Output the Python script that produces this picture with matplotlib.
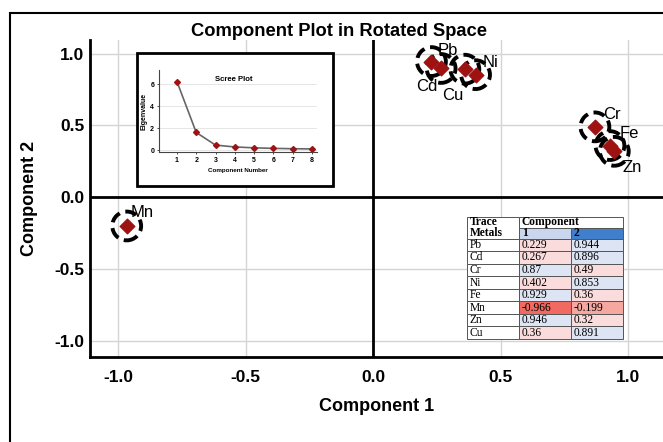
import numpy as np
import matplotlib.pyplot as plt
from matplotlib.patches import Rectangle

plt.rcParams['font.family'] = ['Liberation Sans', 'DejaVu Sans']

metals = ['Pb', 'Cd', 'Cr', 'Ni', 'Fe', 'Mn', 'Zn', 'Cu']
comp1 = [0.229, 0.267, 0.87, 0.402, 0.929, -0.966, 0.946, 0.36]
comp2 = [0.944, 0.896, 0.49, 0.853, 0.36, -0.199, 0.32, 0.891]
scree_x = [1, 2, 3, 4, 5, 6, 7, 8]
eigen = [6.25, 1.6, 0.45, 0.28, 0.2, 0.15, 0.12, 0.1]
ticks = [-1.0, -0.5, 0.0, 0.5, 1.0]
tick_labels = ['-1.0', '-0.5', '0.0', '0.5', '1.0']

# label offsets (points) from each marker
offs = {'Pb': (12, 8), 'Cd': (-10, -13), 'Cr': (12, 9), 'Ni': (11, 9),
        'Fe': (14, 9), 'Mn': (11, 10), 'Zn': (13, -12), 'Cu': (-9, -19)}

W, H = 663, 442
fig = plt.figure(figsize=(W/100, H/100), dpi=100)

# outer frame
fig.patches.append(Rectangle((10/W, -0.1), 1.2, 1 - 13/H + 0.1, transform=fig.transFigure,
                             fill=False, edgecolor='black', lw=1.5))

ax = fig.add_axes([90/W, 85/H, (W - 90)/W, (357 - 40)/H])
ax.set_xlim(-1.11, 1.137)
ax.set_ylim(-1.11, 1.094)
ax.set_xticks(ticks)
ax.set_xticklabels(tick_labels)
ax.set_yticks(ticks)
ax.set_yticklabels(tick_labels)
ax.tick_params(length=0, labelsize=12.5)
ax.tick_params(axis='x', pad=9)
ax.tick_params(axis='y', pad=4)
for lab in ax.get_xticklabels() + ax.get_yticklabels():
    lab.set_fontweight('bold')
ax.grid(color='#d4d4d4', lw=1)
ax.set_axisbelow(True)
for s in ['top', 'right']:
    ax.spines[s].set_visible(False)
for s in ['left', 'bottom']:
    ax.spines[s].set_linewidth(2)
ax.axhline(0, color='black', lw=2, zorder=2)
ax.axvline(0, color='black', lw=2, zorder=2)

ax.scatter(comp1, comp2, s=430, facecolors='none', edgecolors='black',
           linewidths=2.8, linestyles=(0, (3, 1.5)), zorder=3)
ax.scatter(comp1, comp2, s=55, marker='D', color='#9e1212', zorder=4)
for m, x, y in zip(metals, comp1, comp2):
    ax.annotate(m, (x, y), xytext=offs[m], textcoords='offset points',
                ha='center', va='center', fontsize=12, zorder=5)

ax.set_xlabel('Component 1', fontsize=13, fontweight='bold', labelpad=10)
ax.set_ylabel('Component 2', fontsize=13, fontweight='bold', labelpad=12)
fig.text(339/W, 1 - 32/H, 'Component Plot in Rotated Space', ha='center', va='center',
         fontsize=13.2, fontweight='bold')

# scree plot inset
fig.patches.append(Rectangle((137/W, 1 - 186/H), 196/W, 133/H, transform=fig.transFigure,
                             facecolor='white', edgecolor='black', lw=2, zorder=6))
sx = fig.add_axes([159/W, 1 - 152/H, (317 - 159)/W, (152 - 70)/H], zorder=7)
sx.set_facecolor('none')
sx.plot(scree_x, eigen, color='#666666', lw=1.2, marker='D', ms=3,
        mfc='#9e1212', mec='#9e1212')
sx.set_xlim(0.07, 8.26)
sx.set_ylim(-0.18, 7.3)
sx.set_xticks(scree_x)
sx.set_yticks([0, 2, 4, 6])
sx.tick_params(labelsize=5, length=1.5, width=0.5, pad=2)
for lab in sx.get_xticklabels() + sx.get_yticklabels():
    lab.set_fontweight('bold')
sx.grid(axis='y', color='#e2e2e2', lw=0.6)
for s in ['top', 'right']:
    sx.spines[s].set_visible(False)
for s in ['left', 'bottom']:
    sx.spines[s].set_linewidth(0.8)
    sx.spines[s].set_color('#444444')
sx.set_xlabel('Component Number', fontsize=4.5, fontweight='bold', labelpad=3)
sx.set_ylabel('Eigenvalue', fontsize=5, fontweight='bold', labelpad=2)
sx.text(0.47, 0.89, 'Scree Plot', transform=sx.transAxes, ha='center', va='center',
        fontsize=5.6, fontweight='bold')

# loadings table
tx = fig.add_axes([467/W, 1 - 339/H, (623 - 467)/W, (339 - 217)/H], zorder=7)
tx.set_xlim(0, 3)
tx.set_ylim(10, 0)
tx.axis('off')
row_h = [0.86, 0.86] + [1.0] * 8
edges = np.concatenate([[0], np.cumsum(row_h)])
edges = edges / edges[-1] * 10


def cell_color(v):
    if v < -0.5:
        return '#f06a62'
    if v < 0:
        return '#f6a79f'
    if v < 0.5:
        return '#fbdcdc'
    return '#dde4f3'


def put(x, r, txt, bold=False):
    tx.text(x, (edges[r] + edges[r + 1]) / 2, txt, ha='left', va='center',
            fontsize=8.3, family='Liberation Serif',
            fontweight='bold' if bold else 'normal')


def cell(c0, c1, r, txt, fc='white', bold=False):
    tx.add_patch(Rectangle((c0, edges[r]), c1 - c0, edges[r + 1] - edges[r],
                           facecolor=fc, edgecolor='#555555', lw=0.7, clip_on=False))
    put(c0 + 0.05, r, txt, bold)


tx.add_patch(Rectangle((0, edges[0]), 1, edges[2], facecolor='white',
                       edgecolor='#555555', lw=0.7, clip_on=False))
put(0.05, 0, 'Trace', True)
put(0.05, 1, 'Metals', True)
cell(1, 3, 0, 'Component', bold=True)
cell(1, 2, 1, '1', fc='#c9d6ee', bold=True)
cell(2, 3, 1, '2', fc='#3f7fcb', bold=True)
for i, (m, a, b) in enumerate(zip(metals, comp1, comp2)):
    cell(0, 1, i + 2, m)
    cell(1, 2, i + 2, str(a), fc=cell_color(a))
    cell(2, 3, i + 2, str(b), fc=cell_color(b))

fig.savefig('out.png', dpi=100)
